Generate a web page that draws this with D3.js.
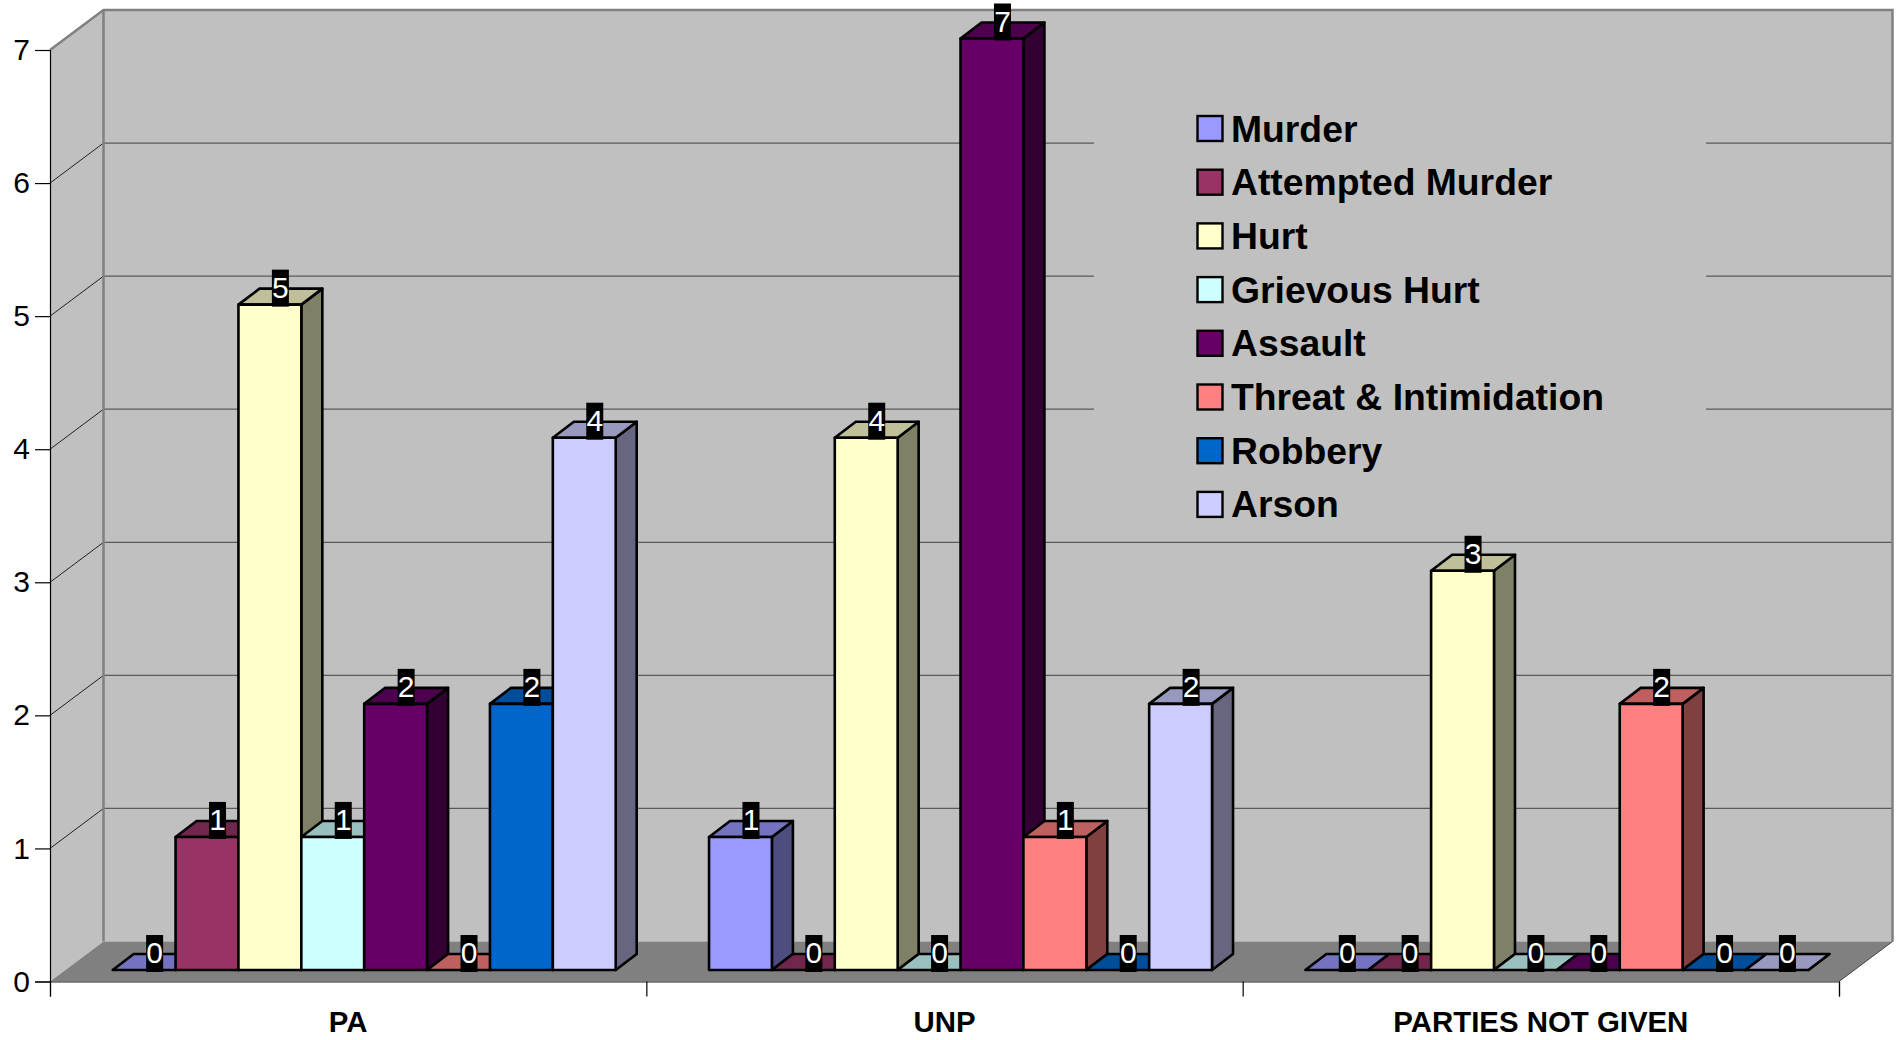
<!DOCTYPE html>
<html>
<head>
<meta charset="utf-8">
<style>
html,body{margin:0;padding:0;background:#fff;overflow:hidden}
svg{display:block;font-family:"Liberation Sans",Arial,sans-serif}
</style>
<script src="https://cdn.jsdelivr.net/npm/d3@7"></script>
</head>
<body>
<svg id="c" width="1897" height="1040"></svg>
<script>
const categories = ["PA", "UNP", "PARTIES NOT GIVEN"];
const seriesNames = ["Murder", "Attempted Murder", "Hurt", "Grievous Hurt", "Assault", "Threat & Intimidation", "Robbery", "Arson"];
const seriesColors = ["#9999ff", "#993366", "#ffffcc", "#ccffff", "#660066", "#ff8080", "#0066cc", "#ccccff"];
const murder = [0, 1, 0];
const attemptedMurder = [1, 0, 0];
const hurt = [5, 4, 3];
const grievousHurt = [1, 0, 0];
const assault = [2, 7, 0];
const threat = [0, 1, 2];
const robbery = [2, 0, 0];
const arson = [4, 2, 0];
const seriesValues = [murder, attemptedMurder, hurt, grievousHurt, assault, threat, robbery, arson];
const yTicks = [0, 1, 2, 3, 4, 5, 6, 7];

const svg = d3.select("#c");
const left = 50, right = 1839, y0 = 981.5, y7 = 50;
const wallDx = 53.5, wallDy = 40;
const floorDx = 16, floorDy = 11.5;
const barDx = 21, barDy = 16;

const y = d3.scaleLinear().domain([0, 7]).range([y0, y7]);
const xCat = d3.scaleBand().domain(categories).range([left, right]);
const xSer = d3.scaleBand().domain(seriesNames).range([62.7, 565.7]);
const pts = a => a.map(p => p.join(",")).join(" ");

// walls and floor
svg.append("polygon")
  .attr("points", pts([[left + wallDx, y(7) - wallDy], [right + wallDx, y(7) - wallDy], [right + wallDx, y0 - wallDy], [left + wallDx, y0 - wallDy]]))
  .attr("fill", "#c0c0c0");
svg.append("polygon")
  .attr("points", pts([[left, y(7)], [left + wallDx, y(7) - wallDy], [left + wallDx, y0 - wallDy], [left, y0]]))
  .attr("fill", "#c0c0c0");
svg.append("polygon")
  .attr("points", pts([[left, y0], [left + wallDx, y0 - wallDy], [right + wallDx, y0 - wallDy], [right, y0]]))
  .attr("fill", "#808080");

// gridlines
svg.append("g").selectAll("line").data(yTicks.filter(d => d > 0 && d < 7)).join("line")
  .attr("x1", left + wallDx).attr("x2", right + wallDx)
  .attr("y1", d => y(d) - wallDy).attr("y2", d => y(d) - wallDy)
  .attr("stroke", "#5a5a5a").attr("stroke-width", 1.2);
svg.append("g").selectAll("line").data(yTicks.filter(d => d > 0 && d < 7)).join("line")
  .attr("x1", left).attr("x2", left + wallDx)
  .attr("y1", d => y(d)).attr("y2", d => y(d) - wallDy)
  .attr("stroke", "#222").attr("stroke-width", 1);

// wall borders
svg.append("polyline")
  .attr("points", pts([[left, y(7)], [left + wallDx, y(7) - wallDy], [right + wallDx, y(7) - wallDy], [right + wallDx, y0 - wallDy]]))
  .attr("fill", "none").attr("stroke", "#808080").attr("stroke-width", 2.5);
svg.append("line")
  .attr("x1", left + wallDx).attr("x2", left + wallDx).attr("y1", y(7) - wallDy).attr("y2", y0 - wallDy)
  .attr("stroke", "#808080").attr("stroke-width", 2.5);
svg.append("line")
  .attr("x1", right).attr("x2", right + wallDx).attr("y1", y0).attr("y2", y0 - wallDy)
  .attr("stroke", "#444").attr("stroke-width", 1);

// legend background hides the gridlines behind it
svg.append("rect").attr("x", 1094).attr("y", 100).attr("width", 612).attr("height", 435).attr("fill", "#c0c0c0");

// bars
const barData = [];
categories.forEach((c, ci) => seriesNames.forEach((s, si) => barData.push({ c, s, v: seriesValues[si][ci], color: seriesColors[si] })));
const barG = svg.append("g").attr("stroke", "#000").attr("stroke-width", 2.6).attr("stroke-linejoin", "round");
const bars = barG.selectAll("g").data(barData).join("g");
const bx = d => xCat(d.c) + xSer(d.s);
const w = xSer.bandwidth();
const by = v => y(v) - floorDy;
const shade = (c, k) => { const r = d3.rgb(c); return d3.rgb(r.r * k, r.g * k, r.b * k); };
bars.append("polygon").attr("class", "side")
  .attr("points", d => pts([[bx(d) + w, by(d.v)], [bx(d) + w + barDx, by(d.v) - barDy], [bx(d) + w + barDx, by(0) - barDy], [bx(d) + w, by(0)]]))
  .attr("fill", d => shade(d.color, .5));
bars.append("polygon").attr("class", "top")
  .attr("points", d => pts([[bx(d), by(d.v)], [bx(d) + barDx, by(d.v) - barDy], [bx(d) + w + barDx, by(d.v) - barDy], [bx(d) + w, by(d.v)]]))
  .attr("fill", d => shade(d.color, .75));
bars.filter(d => d.v > 0).append("rect")
  .attr("x", bx).attr("y", d => by(d.v)).attr("width", w).attr("height", d => by(0) - by(d.v))
  .attr("fill", d => d.color);

// data labels
const lab = svg.append("g").selectAll("g").data(barData).join("g")
  .attr("transform", d => `translate(${bx(d) + w / 2 + barDx / 2},${by(d.v)})`);
lab.append("rect").attr("x", -8.5).attr("y", -35).attr("width", 17).attr("height", 37).attr("fill", "#000");
lab.append("text").attr("text-anchor", "middle").attr("y", -7).attr("font-size", 30).attr("fill", "#fff").text(d => d.v);

// axes
const yAxis = svg.append("g").attr("transform", `translate(${left},0)`)
  .call(d3.axisLeft(y).tickValues(yTicks).tickFormat(d3.format("d")).tickSize(15).tickPadding(5));
yAxis.selectAll("text").attr("font-size", 30).attr("font-family", "Liberation Sans").attr("fill", "#000");
yAxis.select(".domain").attr("stroke", "#000").attr("stroke-width", 1.2);
yAxis.selectAll("line").attr("stroke", "#000").attr("stroke-width", 1.2);

const xEdge = d3.scaleLinear().domain([0, categories.length]).range([left, right]);
const xAxisTicks = svg.append("g").attr("transform", `translate(0,${y0})`)
  .call(d3.axisBottom(xEdge).tickValues(d3.range(categories.length + 1)).tickFormat("").tickSize(15));
xAxisTicks.select(".domain").attr("stroke", "#222").attr("stroke-width", 1.2);
xAxisTicks.selectAll("line").attr("stroke", "#000").attr("stroke-width", 1.2);

const xAxisLabels = svg.append("g").attr("transform", `translate(0,${y0})`)
  .call(d3.axisBottom(xCat).tickSize(0).tickPadding(0));
xAxisLabels.select(".domain").remove();
xAxisLabels.selectAll("text").attr("font-size", 29.4).attr("font-weight", "bold")
  .attr("font-family", "Liberation Sans").attr("fill", "#000").attr("dy", null).attr("y", 50.5);

// legend
const legend = svg.append("g").selectAll("g").data(seriesNames).join("g")
  .attr("transform", (d, i) => `translate(1197,${115.5 + i * 53.7})`);
legend.append("rect").attr("x", .5).attr("y", .5).attr("width", 25).attr("height", 25)
  .attr("fill", (d, i) => seriesColors[i]).attr("stroke", "#000").attr("stroke-width", 2.4);
legend.append("text").attr("x", 34).attr("y", 26).attr("font-size", 37.3).attr("font-weight", "bold").attr("fill", "#000").text(d => d);
</script>
</body>
</html>
